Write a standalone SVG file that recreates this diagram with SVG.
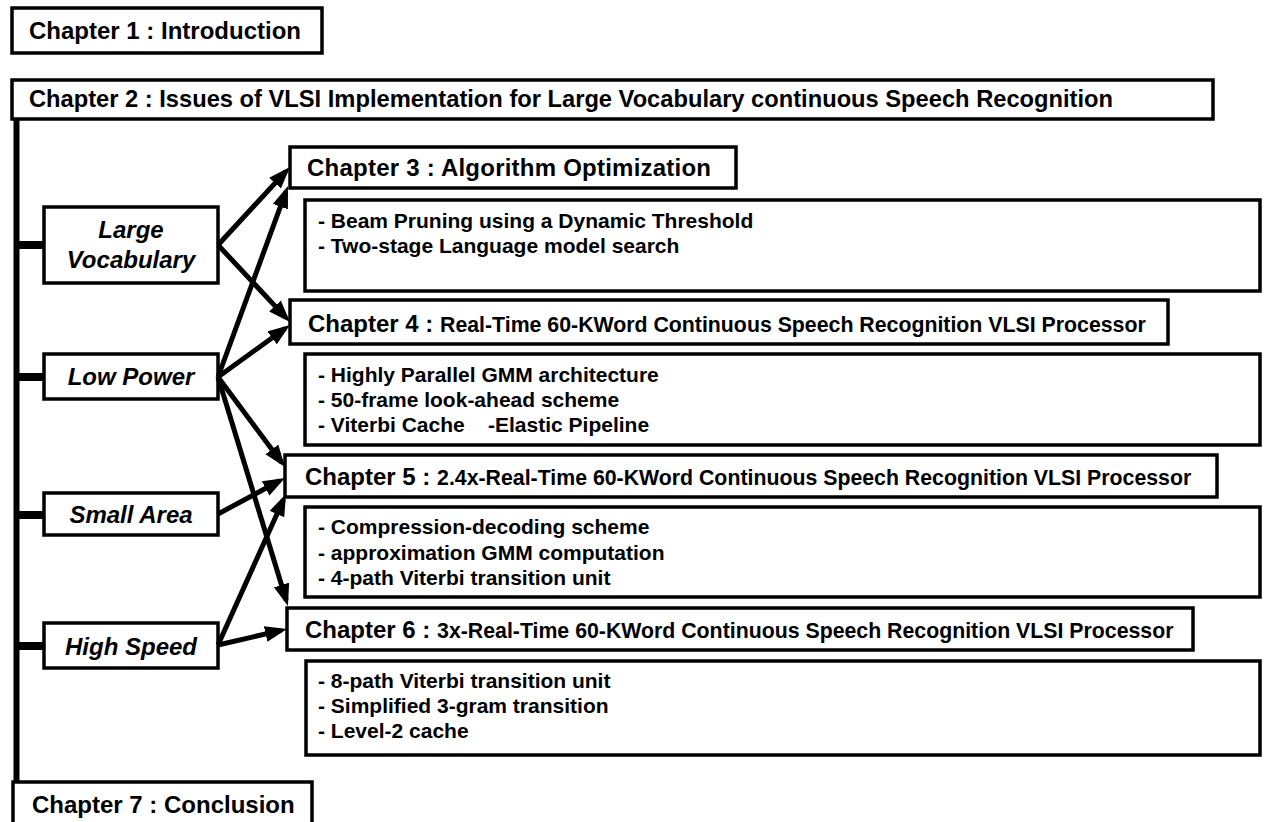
<svg xmlns="http://www.w3.org/2000/svg" width="1267" height="822" viewBox="0 0 1267 822">
<defs>
<style>
.box{fill:#fff;stroke:#000;stroke-width:3.5}
.h{font-family:"Liberation Sans",Arial,sans-serif;font-weight:bold;font-size:24px;fill:#000}
.sub{font-size:21.3px}
.d{font-family:"Liberation Sans",Arial,sans-serif;font-weight:bold;font-size:21px;fill:#000}
.c{font-family:"Liberation Sans",Arial,sans-serif;font-weight:bold;font-style:italic;font-size:24px;fill:#000;text-anchor:middle}
.con line{stroke:#000;stroke-width:5;marker-end:url(#ah)}
.spine{stroke:#000;fill:none}
</style>
<marker id="ah" markerUnits="userSpaceOnUse" markerWidth="24" markerHeight="18" refX="16" refY="8" orient="auto">
<path d="M0,0 L22,8 L0,16 z" fill="#000"/>
</marker>
</defs>
<rect width="1267" height="822" fill="#fff"/>

<g id="spine">
<line class="spine" x1="16.5" y1="118" x2="16.5" y2="784" stroke-width="6"/>
<line class="spine" x1="16" y1="245" x2="45" y2="245" stroke-width="8"/>
<line class="spine" x1="16" y1="377" x2="45" y2="377" stroke-width="8"/>
<line class="spine" x1="16" y1="515" x2="45" y2="515" stroke-width="8"/>
<line class="spine" x1="16" y1="646" x2="45" y2="646" stroke-width="8"/>
</g>

<g id="ch1"><rect class="box" x="12" y="8" width="310" height="45"/><text class="h" x="29" y="39">Chapter 1 : Introduction</text></g>
<g id="ch2"><rect class="box" x="12" y="80" width="1201" height="39"/><text class="h" x="29" y="107" textLength="1084" lengthAdjust="spacingAndGlyphs">Chapter 2 : Issues of VLSI Implementation for Large Vocabulary continuous Speech Recognition</text></g>

<g id="ch3"><rect class="box" x="290" y="147" width="446" height="41"/><text class="h" x="307" y="176" textLength="404">Chapter 3 : Algorithm Optimization</text></g>
<g id="ch3d"><rect class="box" x="305" y="200" width="955" height="91"/>
<text class="d" x="318" y="228">- Beam Pruning using a Dynamic Threshold</text>
<text class="d" x="318" y="253">- Two-stage Language model search</text></g>

<g id="ch4"><rect class="box" x="290" y="300" width="878" height="44"/><text class="h" x="308" y="332">Chapter 4 : <tspan class="sub">Real-Time 60-KWord Continuous Speech Recognition VLSI Processor</tspan></text></g>
<g id="ch4d"><rect class="box" x="305" y="354" width="955" height="91"/>
<text class="d" x="318" y="382">- Highly Parallel GMM architecture</text>
<text class="d" x="318" y="407">- 50-frame look-ahead scheme</text>
<text class="d" x="318" y="432" xml:space="preserve">- Viterbi Cache    -Elastic Pipeline</text></g>

<g id="ch5"><rect class="box" x="285" y="455" width="932" height="42"/><text class="h" x="305" y="485">Chapter 5 : <tspan class="sub">2.4x-Real-Time 60-KWord Continuous Speech Recognition VLSI Processor</tspan></text></g>
<g id="ch5d"><rect class="box" x="305" y="507" width="955" height="90"/>
<text class="d" x="318" y="534">- Compression-decoding scheme</text>
<text class="d" x="318" y="560">- approximation GMM computation</text>
<text class="d" x="318" y="585">- 4-path Viterbi transition unit</text></g>

<g id="ch6"><rect class="box" x="287" y="608" width="906" height="42"/><text class="h" x="305" y="638">Chapter 6 : <tspan class="sub">3x-Real-Time 60-KWord Continuous Speech Recognition VLSI Processor</tspan></text></g>
<g id="ch6d"><rect class="box" x="306" y="661" width="954" height="94"/>
<text class="d" x="318" y="688">- 8-path Viterbi transition unit</text>
<text class="d" x="318" y="713">- Simplified 3-gram transition</text>
<text class="d" x="318" y="738">- Level-2 cache</text></g>

<g id="ch7"><rect class="box" x="13" y="782" width="299" height="46"/><text class="h" x="32" y="813">Chapter 7 : Conclusion</text></g>

<g id="large-vocabulary"><rect class="box" x="44" y="207" width="174" height="76"/><text class="c" x="131" y="238">Large</text><text class="c" x="131" y="268">Vocabulary</text></g>
<g id="low-power"><rect class="box" x="44" y="354" width="174" height="45"/><text class="c" x="131" y="385">Low Power</text></g>
<g id="small-area"><rect class="box" x="44" y="493" width="174" height="42"/><text class="c" x="131" y="523">Small Area</text></g>
<g id="high-speed"><rect class="box" x="44" y="623" width="174" height="45"/><text class="c" x="131" y="655">High Speed</text></g>

<g id="connectors" class="con">
<line x1="218" y1="245" x2="285.9" y2="171.4"/>
<line x1="218" y1="245" x2="285.9" y2="317.6"/>
<line x1="218" y1="377" x2="285.9" y2="191.6"/>
<line x1="218" y1="377" x2="285.1" y2="328.5"/>
<line x1="218" y1="377" x2="281.4" y2="462.2"/>
<line x1="218" y1="377" x2="286.2" y2="600.3"/>
<line x1="218" y1="514" x2="279.7" y2="480.8"/>
<line x1="218" y1="645" x2="283.5" y2="499.5"/>
<line x1="218" y1="645" x2="281.2" y2="630.4"/>
</g>
</svg>
